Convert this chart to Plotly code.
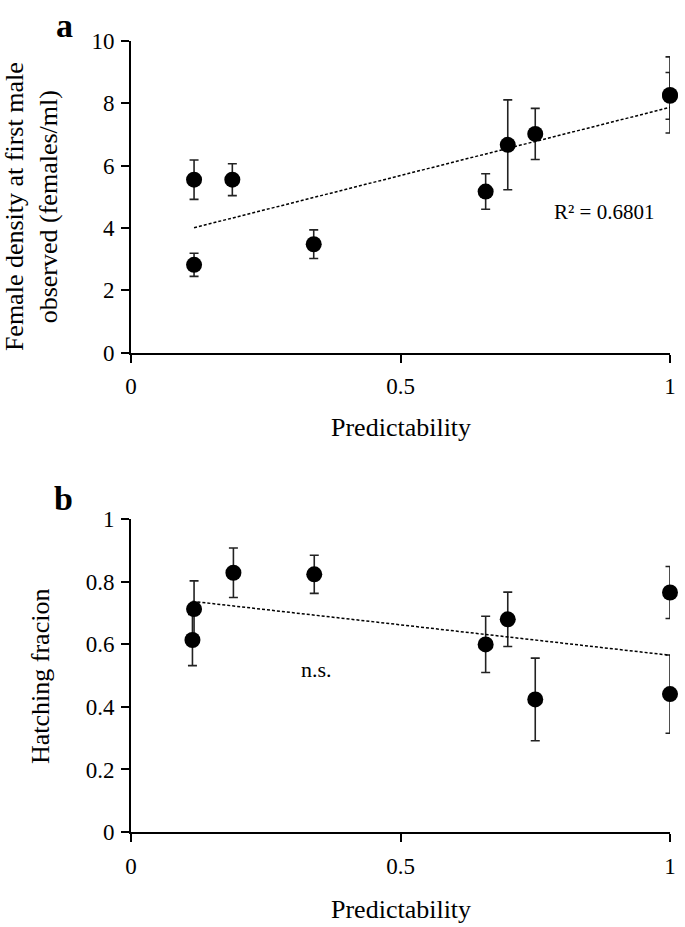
import numpy as np
import plotly.graph_objects as go

# ---- Data ----
pred_a = [0.117, 0.117, 0.188, 0.339, 0.658, 0.699, 0.750, 1.0, 1.0]
dens_a = [5.55, 2.82, 5.55, 3.48, 5.17, 6.67, 7.02, 8.27, 8.24]
dens_err = [0.63, 0.37, 0.51, 0.46, 0.57, 1.44, 0.82, 1.22, 0.75]

pred_b = [0.114, 0.117, 0.190, 0.340, 0.658, 0.699, 0.750, 1.0, 1.0]
hatch_b = [0.614, 0.713, 0.829, 0.824, 0.600, 0.680, 0.424, 0.766, 0.441]
hatch_err = [0.082, 0.090, 0.079, 0.061, 0.090, 0.087, 0.132, 0.083, 0.125]

x_ticks = [0, 0.5, 1]
x_ticklabels = ["0", "0.5", "1"]
ya_ticks = [0, 2, 4, 6, 8, 10]
yb_ticks = [0, 0.2, 0.4, 0.6, 0.8, 1]
yb_ticklabels = ["0", "0.2", "0.4", "0.6", "0.8", "1"]

FONT = "Liberation Serif"

# page geometry (pixels)
W, H = 685, 927
PLOT_L, PLOT_R, PLOT_T, PLOT_B = 131, 676, 41, 832
ML, MR, MT, MB = PLOT_L, W - PLOT_R, PLOT_T, H - PLOT_B
PW = PLOT_R - PLOT_L
PH = PLOT_B - PLOT_T


def px_x(px):
    return (px - PLOT_L) / PW


def px_y(py):
    return (PLOT_B - py) / PH


fig = go.Figure()

# panel a
fig.add_trace(go.Scatter(
    x=pred_a, y=dens_a, mode="markers",
    marker=dict(color="black", size=16),
    error_y=dict(type="data", array=dens_err, visible=True,
                 color="#222", thickness=1.6, width=4.5),
    xaxis="x", yaxis="y", cliponaxis=False, showlegend=False))
ka = np.polyfit(pred_a, dens_a, 1)
xa_line = [min(pred_a), max(pred_a)]
fig.add_trace(go.Scatter(
    x=xa_line, y=np.polyval(ka, xa_line), mode="lines",
    line=dict(color="black", width=1.5, dash="3px,2px"),
    xaxis="x", yaxis="y", showlegend=False, cliponaxis=False))

# panel b
fig.add_trace(go.Scatter(
    x=pred_b, y=hatch_b, mode="markers",
    marker=dict(color="black", size=16),
    error_y=dict(type="data", array=hatch_err, visible=True,
                 color="#222", thickness=1.6, width=4.5),
    xaxis="x2", yaxis="y2", cliponaxis=False, showlegend=False))
kb = np.polyfit(pred_b, hatch_b, 1)
xb_line = [min(pred_b), max(pred_b)]
fig.add_trace(go.Scatter(
    x=xb_line, y=np.polyval(kb, xb_line), mode="lines",
    line=dict(color="black", width=1.5, dash="3px,2px"),
    xaxis="x2", yaxis="y2", showlegend=False, cliponaxis=False))

axis_common = dict(
    showline=True, linecolor="black", linewidth=1.6,
    ticks="outside", ticklen=8, tickwidth=1.6, tickcolor="black",
    showgrid=False, zeroline=False,
    tickfont=dict(family=FONT, size=23, color="black"),
)

a_bottom = px_y(352.7)
b_top = px_y(519.3)

fig.update_layout(
    width=W, height=H,
    margin=dict(l=ML, r=MR, t=MT, b=MB),
    paper_bgcolor="white", plot_bgcolor="white",
    font=dict(family=FONT, color="black"),
    xaxis=dict(domain=[0, 1], range=[0, 1], tickvals=x_ticks, ticktext=x_ticklabels,
               anchor="y", ticklabelstandoff=4, **axis_common),
    yaxis=dict(domain=[a_bottom, 1], range=[0, 10], tickvals=ya_ticks,
               anchor="x", ticklabelstandoff=2, **axis_common),
    xaxis2=dict(domain=[0, 1], range=[0, 1], tickvals=x_ticks, ticktext=x_ticklabels,
                anchor="y2", ticklabelstandoff=5, **axis_common),
    yaxis2=dict(domain=[0, b_top], range=[0, 1], tickvals=yb_ticks, ticktext=yb_ticklabels,
                anchor="x2", ticklabelstandoff=2, **axis_common),
)

ann = []
# axis titles
ann.append(dict(text="Predictability", x=px_x(404), y=px_y(427), xref="paper", yref="paper",
                showarrow=False, font=dict(family=FONT, size=26, color="black"),
                xanchor="center", yanchor="middle"))
ann.append(dict(text="Predictability", x=px_x(404), y=px_y(909), xref="paper", yref="paper",
                showarrow=False, font=dict(family=FONT, size=26, color="black"),
                xanchor="center", yanchor="middle"))
ann.append(dict(text="Female density at first male<br>observed (females/ml)",
                x=px_x(30), y=px_y(207), xref="paper", yref="paper", textangle=-90,
                showarrow=False, font=dict(family=FONT, size=26, color="black"),
                xanchor="center", yanchor="middle"))
ann.append(dict(text="Hatching fracion",
                x=px_x(39), y=px_y(677), xref="paper", yref="paper", textangle=-90,
                showarrow=False, font=dict(family=FONT, size=26, color="black"),
                xanchor="center", yanchor="middle"))
# panel letters
ann.append(dict(text="<b>a</b>", x=px_x(64), y=px_y(25), xref="paper", yref="paper",
                showarrow=False, font=dict(family=FONT, size=34, color="black"),
                xanchor="center", yanchor="middle"))
ann.append(dict(text="<b>b</b>", x=px_x(63), y=px_y(498), xref="paper", yref="paper",
                showarrow=False, font=dict(family=FONT, size=34, color="black"),
                xanchor="center", yanchor="middle"))
# statistics labels
ann.append(dict(text="R² = 0.6801", x=0.878, y=4.52, xref="x", yref="y",
                showarrow=False, font=dict(family=FONT, size=21, color="black"),
                xanchor="center", yanchor="middle"))
ann.append(dict(text="n.s.", x=0.345, y=0.519, xref="x2", yref="y2",
                showarrow=False, font=dict(family=FONT, size=22, color="black"),
                xanchor="center", yanchor="middle"))
fig.update_layout(annotations=ann)

fig.write_html("out.html",
               config={"displayModeBar": False},
               post_script="document.body.style.margin='0';document.body.style.padding='0';")
